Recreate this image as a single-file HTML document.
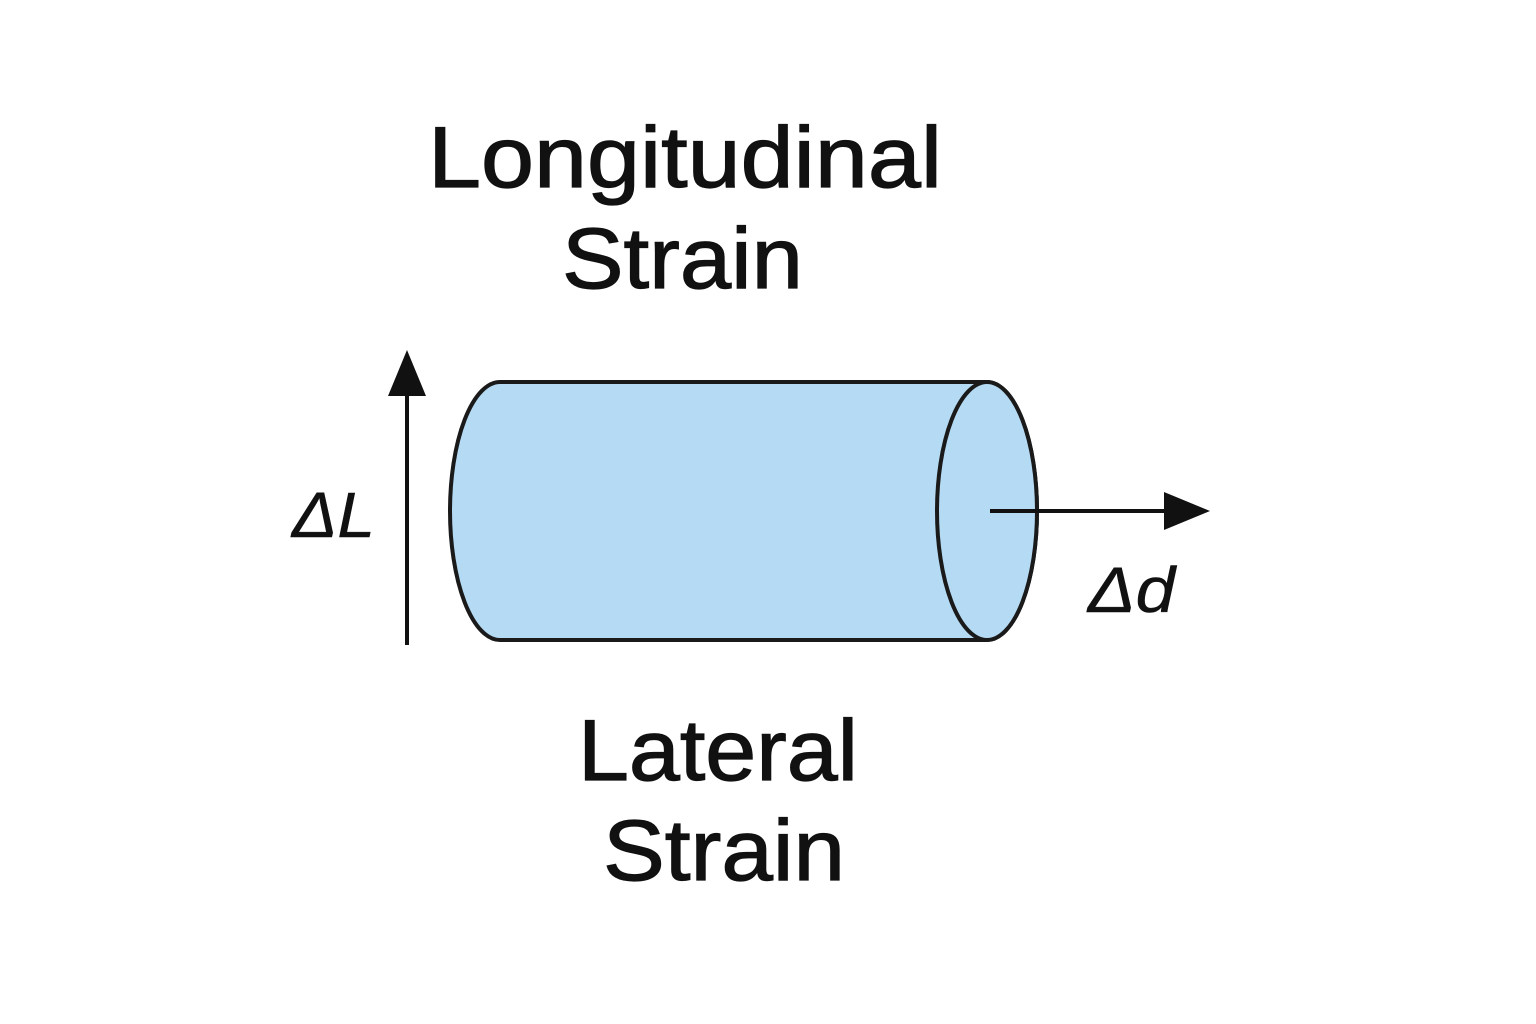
<!DOCTYPE html>
<html><head><meta charset="utf-8"><style>
html,body{margin:0;padding:0;background:#fff;}
svg{display:block;}
</style></head><body>
<svg width="1536" height="1024" viewBox="0 0 1536 1024" xmlns="http://www.w3.org/2000/svg">
<rect width="1536" height="1024" fill="#fff"/>
<g font-family="Liberation Sans, DejaVu Sans, sans-serif" fill="#111" stroke="#111" stroke-width="1.2">
<text x="428" y="187" font-size="86" textLength="514" lengthAdjust="spacingAndGlyphs">Longitudinal</text>
<text x="562" y="288" font-size="86" textLength="241" lengthAdjust="spacingAndGlyphs">Strain</text>
<text x="578" y="780" font-size="86" textLength="280" lengthAdjust="spacingAndGlyphs">Lateral</text>
<text x="603" y="880" font-size="86" textLength="242" lengthAdjust="spacingAndGlyphs">Strain</text>
<text x="292" y="537" font-size="64" font-style="italic" textLength="83" lengthAdjust="spacingAndGlyphs" stroke-width="0.5">ΔL</text>
<text x="1088" y="612" font-size="64" font-style="italic" textLength="87" lengthAdjust="spacingAndGlyphs" stroke-width="0.5">Δd</text>
</g>
<path d="M500,382 L987,382 A50,129 0 0 1 987,640 L500,640 A50,129 0 0 1 500,382 Z" fill="#b5daf3" stroke="#1a1a1a" stroke-width="4"/>
<ellipse cx="987" cy="511" rx="50" ry="129" fill="#b5daf3" stroke="#1a1a1a" stroke-width="4"/>
<line x1="407" y1="645" x2="407" y2="390" stroke="#111" stroke-width="4"/>
<polygon points="407,350 388,396 426,396" fill="#111"/>
<line x1="990" y1="511" x2="1170" y2="511" stroke="#111" stroke-width="4"/>
<polygon points="1210,511 1164,492 1164,530" fill="#111"/>
</svg>
</body></html>
